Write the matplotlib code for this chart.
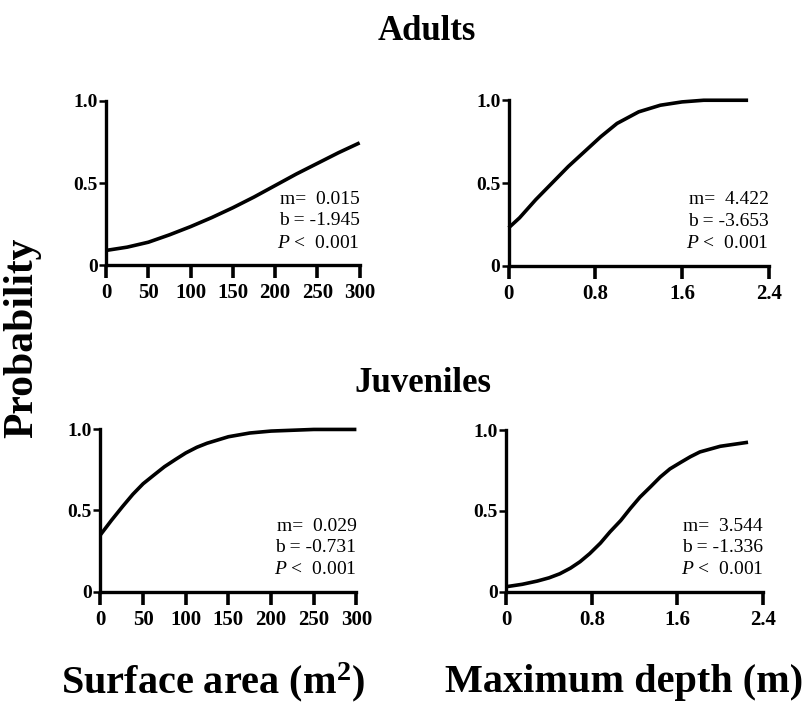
import matplotlib
matplotlib.use("Agg")
import matplotlib.pyplot as plt

plt.rcParams['font.family'] = ['Liberation Serif', 'DejaVu Serif']
plt.rcParams['mathtext.fontset'] = 'custom'
plt.rcParams['mathtext.rm'] = 'Liberation Serif'
plt.rcParams['mathtext.it'] = 'Liberation Serif:italic'
plt.rcParams['mathtext.bf'] = 'Liberation Serif:bold'

# curves
area_x = [0, 25, 50, 75, 100, 125, 150, 175, 200, 225, 250, 275, 300]
adult_area_p = [0.09, 0.11, 0.14, 0.185, 0.235, 0.29, 0.35, 0.415, 0.485, 0.555, 0.62, 0.685, 0.745]
juv_area_x = [0, 13, 26, 38, 50, 63, 75, 88, 100, 113, 125, 150, 175, 200, 250, 300]
juv_area_p = [0.35, 0.44, 0.525, 0.60, 0.665, 0.72, 0.77, 0.815, 0.855, 0.89, 0.915, 0.955, 0.978, 0.99, 1.0, 1.0]

adult_depth_x = [0, 0.1, 0.25, 0.4, 0.55, 0.7, 0.85, 1.0, 1.2, 1.4, 1.6, 1.8, 2.0, 2.21]
adult_depth_p = [0.23, 0.29, 0.40, 0.50, 0.60, 0.69, 0.78, 0.86, 0.93, 0.97, 0.99, 1.0, 1.0, 1.0]
juv_depth_x = [0, 0.15, 0.29, 0.4, 0.5, 0.6, 0.69, 0.78, 0.88, 0.97, 1.07, 1.16, 1.25, 1.35, 1.44, 1.53, 1.63, 1.72, 1.81, 2.0, 2.26]
juv_depth_p = [0.03, 0.045, 0.065, 0.085, 0.11, 0.145, 0.185, 0.235, 0.30, 0.37, 0.44, 0.515, 0.585, 0.65, 0.71, 0.76, 0.80, 0.835, 0.865, 0.90, 0.925]

stats = [("0.015", "-1.945"), ("4.422", "-3.653"), ("0.029", "-0.731"), ("3.544", "-1.336")]

area_ticks = [0, 50, 100, 150, 200, 250, 300]
depth_ticks = [0, 0.8, 1.6, 2.4]
depth_labels = ["0", "0.8", "1.6", "2.4"]
prob_ticks = [0, 0.5, 1.0]
prob_labels = ["0", "0.5", "1.0"]

fig = plt.figure(figsize=(8.1, 7.11), dpi=100)

boxes = [
    [0.131, 0.627, 0.313, 0.231],
    [0.628, 0.626, 0.321, 0.233],
    [0.124, 0.168, 0.316, 0.228],
    [0.625, 0.168, 0.317, 0.227],
]
xs = [area_x, adult_depth_x, juv_area_x, juv_depth_x]
ps = [adult_area_p, adult_depth_p, juv_area_p, juv_depth_p]

for i, box in enumerate(boxes):
    ax = fig.add_axes(box)
    ax.plot(xs[i], ps[i], color='black', lw=2.6, clip_on=False,
            solid_capstyle='butt', solid_joinstyle='round')
    if i % 2 == 0:
        ax.set_xlim(0, 300)
        ax.set_xticks(area_ticks)
        ax.set_xticklabels([str(t) for t in area_ticks])
    else:
        ax.set_xlim(0, 2.4)
        ax.set_xticks(depth_ticks)
        ax.set_xticklabels(depth_labels)
    ax.set_ylim(0, 1.0)
    ax.set_yticks(prob_ticks)
    ax.set_yticklabels(prob_labels)
    for s in ['top', 'right']:
        ax.spines[s].set_visible(False)
    for s in ['left', 'bottom']:
        ax.spines[s].set_linewidth(2.4)
    ax.tick_params(axis='x', direction='out', length=9, width=2.6, pad=4,
                   labelsize=15)
    ax.tick_params(axis='y', direction='out', length=5, width=1.8, pad=1,
                   labelsize=14)
    for lab in ax.get_xticklabels() + ax.get_yticklabels():
        lab.set_fontweight('bold')
    m, b = stats[i]
    ax.text(1.0, 0.40, "m=  " + m, transform=ax.transAxes, ha='right',
            va='center', fontsize=14)
    ax.text(1.0, 0.27, "b = " + b, transform=ax.transAxes, ha='right',
            va='center', fontsize=14)
    ax.text(1.0, 0.135, r"$P$ <  0.001", transform=ax.transAxes, ha='right',
            va='center', fontsize=14)

fig.text(0.527, 0.955, "Adults", ha='center', va='center', fontsize=25,
         fontweight='bold')
fig.text(0.522, 0.461, "Juveniles", ha='center', va='center', fontsize=25,
         fontweight='bold')
fig.text(0.027, 0.525, "Probability", ha='center', va='center', fontsize=30,
         fontweight='bold', rotation=90)
fig.text(0.263, 0.04, r"Surface area (m$^{\mathbf{2}}$)", ha='center',
         va='center', fontsize=29, fontweight='bold')
fig.text(0.770, 0.04, "Maximum depth (m)", ha='center', va='center',
         fontsize=29, fontweight='bold')

fig.savefig("out.png", dpi=100)
